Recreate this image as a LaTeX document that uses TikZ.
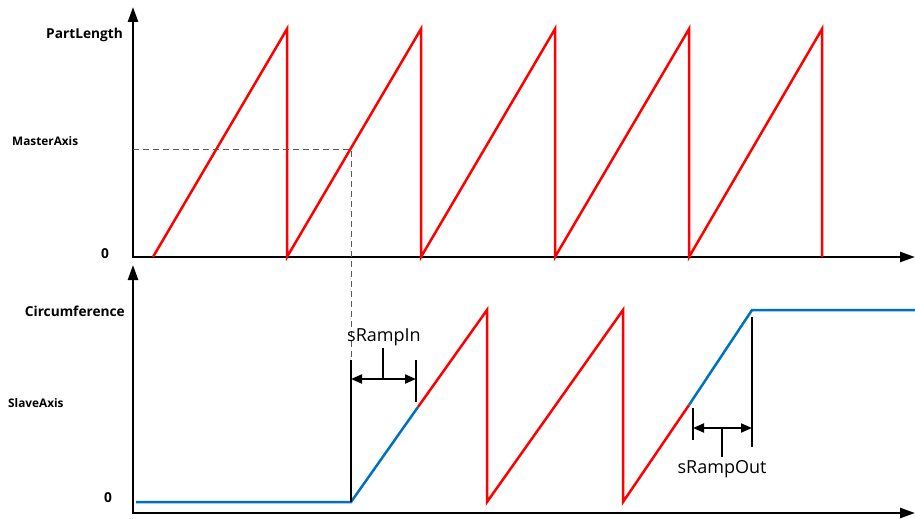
\documentclass[tikz,border=0pt]{standalone}
\usepackage{fontspec}
\setmainfont{Open Sans}
\usetikzlibrary{arrows.meta}
\definecolor{blueline}{RGB}{0,112,192}
\definecolor{guidegray}{RGB}{90,90,90}
\begin{document}
\begin{tikzpicture}[x=1pt,y=-1pt,
  axis/.style={line width=2.5pt,{Triangle[length=15pt,width=10pt]}-{Triangle[length=15pt,width=10pt]}},
  master/.style={red,line width=2.5pt,line join=miter},
  slave/.style={blueline,line width=2.5pt},
  marker/.style={line width=2pt},
  dimarrow/.style={line width=2pt,{Triangle[length=11pt,width=9pt]}-{Triangle[length=11pt,width=9pt]}},
  guide/.style={guidegray,line width=1pt,dash pattern=on 6pt off 4pt},
  biglabel/.style={font=\bfseries\fontsize{13.7}{16}\selectfont,inner sep=0pt},
  smalllabel/.style={font=\bfseries\fontsize{11.8}{14}\selectfont,inner sep=0pt},
  dimlabel/.style={font=\fontsize{18}{21}\selectfont,inner sep=0pt}]
\useasboundingbox (0,0) rectangle (915,519);

% ---------- top (master) axes ----------
\coordinate (O1) at (133,257);
\coordinate (Y1) at (133,7);
\coordinate (X1) at (915,257);
\draw[axis] (Y1) -- (O1) -- (X1);

\node[biglabel,anchor=east] (partlength) at (123,35) {PartLength};
\node[smalllabel,anchor=west] (masteraxis) at (12,141) {MasterAxis};
\node[biglabel] (zero1) at (105,254) {0};

% master sawtooth
\draw[master] (153,257) -- (287,29) -- (287,257) -- (421,29) -- (421,257)
  -- (555,29) -- (555,257) -- (689,29) -- (689,257) -- (822,29) -- (822,257);

% ---------- bottom (slave) axes ----------
\coordinate (O2) at (133,513);
\coordinate (Y2) at (133,265);
\coordinate (X2) at (915,513);
\draw[axis] (Y2) -- (O2) -- (X2);

\node[biglabel,anchor=east] (circ) at (125,311) {Circumference};
\node[smalllabel,anchor=west] (slaveaxis) at (8,403) {SlaveAxis};
\node[biglabel] (zero2) at (108,498) {0};

% slave curve
\coordinate (s0) at (136,502);
\coordinate (s1) at (351,502);
\coordinate (s2) at (418,407);
\coordinate (s3) at (487,310);
\coordinate (s4) at (487,502);
\coordinate (s5) at (623,310);
\coordinate (s6) at (623,502);
\coordinate (s7) at (689,405);
\coordinate (s8) at (752,310);
\coordinate (s9) at (915,310);
\draw[slave] (s0) -- (s1) -- (s2);
\draw[master] (s2) -- (s3) -- (s4) -- (s5) -- (s6) -- (s7);
\draw[slave] (s7) -- (s8) -- (s9);

% dashed guide
\coordinate (g0) at (133,149);
\coordinate (g1) at (351,149);
\coordinate (g2) at (351,360);
\draw[guide] (g0) -- (g1) -- (g2);

% sRampIn
\coordinate (ri0) at (351,360);
\coordinate (ri1) at (416,360);
\coordinate (ri2) at (416,402);
\coordinate (ria) at (351,379);
\coordinate (rib) at (416,379);
\coordinate (ric) at (383,379);
\coordinate (rid) at (383,348);
\draw[marker] (ri0) -- (s1);
\draw[marker] (ri1) -- (ri2);
\draw[dimarrow] (ria) -- (rib);
\draw[marker] (ric) -- (rid);
\node[dimlabel] (rampin) at (384,337) {sRampIn};

% sRampOut
\coordinate (ro0) at (752,317);
\coordinate (ro1) at (752,447);
\coordinate (ro2) at (693,408);
\coordinate (ro3) at (693,440);
\coordinate (roa) at (693,428);
\coordinate (rob) at (752,428);
\coordinate (roc) at (722,428);
\coordinate (rod) at (722,457);
\draw[marker] (ro0) -- (ro1);
\draw[marker] (ro2) -- (ro3);
\draw[dimarrow] (roa) -- (rob);
\draw[marker] (roc) -- (rod);
\node[dimlabel] (rampout) at (722,469) {sRampOut};
\end{tikzpicture}
\end{document}
